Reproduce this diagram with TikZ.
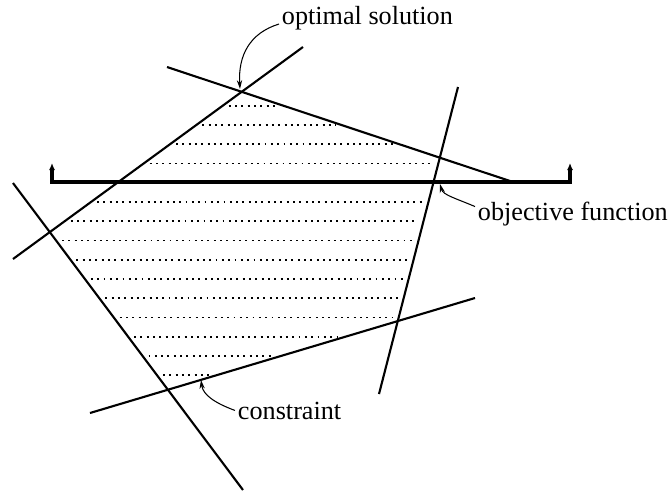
\documentclass[tikz,border=0pt]{standalone}
\usepackage{fontspec}
\setmainfont{Liberation Serif}
\usetikzlibrary{arrows.meta}

\begin{document}
\begin{tikzpicture}[x=0.02cm, y=-0.02cm,
    bound/.style={line width=1.2pt},
    objline/.style={line width=1.8pt, {Latex[length=4pt,width=3.5pt]}-{Latex[length=4pt,width=3.5pt]}},
    hatch/.style={line width=1.1pt, dash pattern=on 1.1pt off 2.5pt},
    lbl/.style={inner sep=1.5pt, anchor=base west, font=\fontsize{14.9}{18}\selectfont},
    callout/.style={line width=0.6pt, -{Stealth[length=5pt,width=3pt]}}]
    \useasboundingbox (0,0) rectangle (672,491);

    % feasible region
    \foreach \y/\xl/\xr in {105.7/228.7/277.5, 125.0/202.4/335.4, 144.2/176.0/393.3,
        163.5/149.7/432.3, 202.0/97.0/422.4, 221.2/70.7/417.5, 240.5/62.0/412.5,
        259.7/76.4/407.6, 279.0/90.9/402.6, 298.2/105.3/397.7, 317.5/119.7/392.7,
        336.7/134.1/339.5, 356.0/148.5/275.0, 375.2/163.0/210.6}
        \draw[hatch] (\xl,\y) -- (\xr,\y);

    % constraints
    \coordinate (a1) at (13,259);  \coordinate (a2) at (303,47);
    \coordinate (b1) at (167,67);  \coordinate (b2) at (510,181);
    \coordinate (c1) at (458,87);  \coordinate (c2) at (379,394);
    \coordinate (d1) at (90,413);  \coordinate (d2) at (475,298);
    \coordinate (e1) at (13,183);  \coordinate (e2) at (243,490);
    \draw[bound] (a1) -- (a2);
    \draw[bound] (b1) -- (b2);
    \draw[bound] (c1) -- (c2);
    \draw[bound] (d1) -- (d2);
    \draw[bound] (e1) -- (e2);

    % objective
    \coordinate (o1) at (52,163);  \coordinate (o2) at (52,182);
    \coordinate (o3) at (570,182); \coordinate (o4) at (570,163);
    \draw[objline] (o1) -- (o2) -- (o3) -- (o4);

    \coordinate (opt) at (240,89);
    \coordinate (objpt) at (440,184);
    \coordinate (conpt) at (201,380);

    \node[lbl] (optlbl) at (279,24) {optimal solution};
    \node[lbl] (objlbl) at (475,220) {objective function};
    \node[lbl] (conlbl) at (235,419) {constraint};

    \draw[callout] (optlbl.base west) .. controls (250,33) and (238,55) .. (opt);
    \draw[callout] ([yshift=4pt]objlbl.west) .. controls (455,198) and (443,195) .. (objpt);
    \draw[callout] (conlbl.west) .. controls (215,403) and (203,395) .. (conpt);
\end{tikzpicture}
\end{document}
